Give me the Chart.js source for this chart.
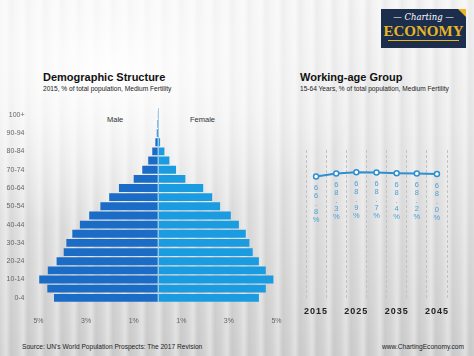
<!DOCTYPE html>
<html>
<head>
<meta charset="utf-8">
<script src="https://cdn.jsdelivr.net/npm/chart.js@4/dist/chart.umd.min.js"></script>
<style>
  html, body { margin: 0; padding: 0; }
  #wrap {
    position: relative; width: 474px; height: 356px; overflow: hidden;
    font-family: "Liberation Sans", Arial, sans-serif;
    background:
      radial-gradient(ellipse 260px 160px at 110px 70px, rgba(255,255,255,0.95), rgba(255,255,255,0) 100%),
      repeating-linear-gradient(90deg, rgba(255,255,255,0.0) 0px, rgba(255,255,255,0.35) 6px, rgba(0,0,0,0.035) 11px, rgba(255,255,255,0.0) 17px),
      linear-gradient(180deg, #f4f4f4 0%, #ebebeb 35%, #dcdcdc 70%, #d0d0d0 100%);
  }
  .t { position: absolute; white-space: nowrap; line-height: 1; }
  canvas { position: absolute; }
</style>
</head>
<body>
<div id="wrap">
  <div style="position:absolute;left:381px;top:9px;width:85px;height:39px;background:#1d2e4c;"></div>
  <div style="position:absolute;left:458px;top:9px;width:0;height:0;border-top:8px solid #e8b526;border-left:8px solid transparent;"></div>
  <div class="t" style="left:381px;width:85px;top:13px;text-align:center;color:#fff;font-family:'DejaVu Serif',serif;font-style:italic;font-size:8.5px;">— Charting —</div>
  <div class="t" style="left:381px;width:85px;top:24px;text-align:center;color:#e8b526;font-family:'Liberation Serif',serif;font-weight:bold;font-size:15px;">ECONOMY</div>
  <div style="position:absolute;left:388px;top:40px;width:71px;height:1px;background:#e8b526;"></div>

  <div class="t" style="left:43px;top:72px;font-size:11px;font-weight:bold;color:#111;">Demographic Structure</div>
  <div class="t" style="left:43px;top:86px;font-size:6.6px;color:#222;">2015, % of total population, Medium Fertility</div>
  <div class="t" style="left:300px;top:72px;font-size:11px;font-weight:bold;color:#111;">Working-age Group</div>
  <div class="t" style="left:300px;top:86px;font-size:6.6px;color:#222;">15-64 Years, % of total population, Medium Fertility</div>

  <div class="t" style="left:107px;top:116px;font-size:7.5px;color:#333;">Male</div>
  <div class="t" style="left:190px;top:116px;font-size:7.5px;color:#333;">Female</div>

  <canvas id="pyr" width="290" height="225" style="left:0;top:100px;"></canvas>
  <canvas id="work" width="184" height="185" style="left:290px;top:140px;"></canvas>

  <div class="t" style="left:22px;top:344px;font-size:6.6px;color:#222;">Source: UN's World Population Prospects: The 2017 Revision</div>
  <div class="t" style="right:10px;top:344px;font-size:6.6px;color:#222;">www.ChartingEconomy.com</div>
</div>
<script>
const ageGroups = ["0-4","5-9","10-14","15-19","20-24","25-29","30-34","35-39","40-44","45-49","50-54","55-59","60-64","65-69","70-74","75-79","80-84","85-89","90-94","95-99","100+"];
const maleShare = [4.35,4.63,4.97,4.61,4.24,3.94,3.83,3.58,3.26,2.87,2.40,2.03,1.62,1.00,0.64,0.39,0.22,0.09,0.03,0.01,0.002];
const femaleShare = [4.26,4.55,4.87,4.55,4.26,4.00,3.86,3.71,3.42,3.08,2.63,2.30,1.92,1.17,0.78,0.50,0.29,0.11,0.05,0.015,0.003];
const pyramidTicks = [-5,-3,-1,1,3,5];

const years = ["2015","2020","2025","2030","2035","2040","2045"];
const workingAge = [66.8,68.3,68.9,68.7,68.4,68.2,68.0];

const zeroLine = {
  id: 'zeroLine',
  afterDatasetsDraw(chart) {
    const ctx = chart.ctx, x = chart.scales.x.getPixelForValue(0), a = chart.chartArea;
    ctx.save();
    ctx.strokeStyle = 'rgba(160,200,228,0.95)';
    ctx.lineWidth = 1;
    ctx.beginPath();
    ctx.moveTo(Math.round(x) + 0.5, a.top - 2);
    ctx.lineTo(Math.round(x) + 0.5, a.bottom);
    ctx.stroke();
    ctx.restore();
  }
};

new Chart(document.getElementById('pyr'), {
  type: 'bar',
  data: {
    labels: ageGroups,
    datasets: [
      { label: 'Male', data: maleShare.map(v => -v), backgroundColor: '#1a6cc6', barPercentage: 0.86, categoryPercentage: 1 },
      { label: 'Female', data: femaleShare, backgroundColor: '#1b9be0', barPercentage: 0.86, categoryPercentage: 1 }
    ]
  },
  options: {
    indexAxis: 'y',
    responsive: false,
    animation: false,
    layout: { padding: { top: 7.3, right: 13.5, left: 0, bottom: 0 } },
    plugins: { legend: { display: false }, tooltip: { enabled: false } },
    scales: {
      x: {
        stacked: true, min: -5, max: 5,
        grid: { display: false }, border: { display: false },
        afterBuildTicks: s => { s.ticks = pyramidTicks.map(v => ({ value: v })); },
        ticks: { callback: v => Math.abs(v) + '%', font: { size: 7, family: 'Liberation Sans' }, color: '#666', padding: 6, maxRotation: 0 },
        afterFit: s => { s.height = 22.6; }
      },
      y: {
        stacked: true, reverse: true,
        grid: { display: false }, border: { display: false },
        ticks: {
          autoSkip: false, font: { size: 7, family: 'Liberation Sans' }, color: '#666', padding: 6,
          callback: function (v, i) { return i % 2 === 0 ? this.getLabelForValue(v) : ''; }
        },
        afterFit: s => { s.width = 38.5; }
      }
    }
  },
  plugins: [zeroLine]
});

const stackedLabels = {
  id: 'stackedLabels',
  beforeDraw(chart) { chart.ctx.letterSpacing = '1px'; },
  afterDatasetsDraw(chart) {
    const ctx = chart.ctx;
    const meta = chart.getDatasetMeta(0);
    ctx.save();
    ctx.letterSpacing = '0px';
    ctx.font = '7.5px "Liberation Sans"';
    ctx.fillStyle = '#4aa2d8';
    ctx.textAlign = 'center';
    ctx.textBaseline = 'middle';
    meta.data.forEach((pt, i) => {
      const s = workingAge[i].toFixed(1) + '%';
      [...s].forEach((ch, j) => ctx.fillText(ch, pt.x, pt.y + 11.5 + j * 8));
    });
    ctx.restore();
  }
};

new Chart(document.getElementById('work'), {
  type: 'line',
  data: {
    labels: years,
    datasets: [{
      data: workingAge, borderColor: '#2b8fd1', borderWidth: 2,
      pointRadius: 2.5, pointBorderWidth: 1.5, pointBackgroundColor: '#fff', pointBorderColor: '#2b8fd1',
      tension: 0
    }]
  },
  options: {
    responsive: false,
    animation: false,
    layout: { padding: { top: 10, right: 27, left: 16, bottom: 0 } },
    plugins: { legend: { display: false }, tooltip: { enabled: false } },
    scales: {
      x: {
        offset: true,
        grid: { display: true, color: '#c2c2c2', lineWidth: 1, drawTicks: false, offset: true },
        border: { display: false, dash: [3, 2] },
        ticks: {
          autoSkip: false, maxRotation: 0, padding: 6, color: '#222',
          font: { size: 9, weight: 'bold', family: 'Liberation Sans' },
          callback: function (v, i) { return i % 2 === 0 ? this.getLabelForValue(v) : ''; }
        },
        afterFit: s => { s.height = 25; }
      },
      y: { display: false, min: 5, max: 80 }
    }
  },
  plugins: [stackedLabels]
});
</script>
</body>
</html>
